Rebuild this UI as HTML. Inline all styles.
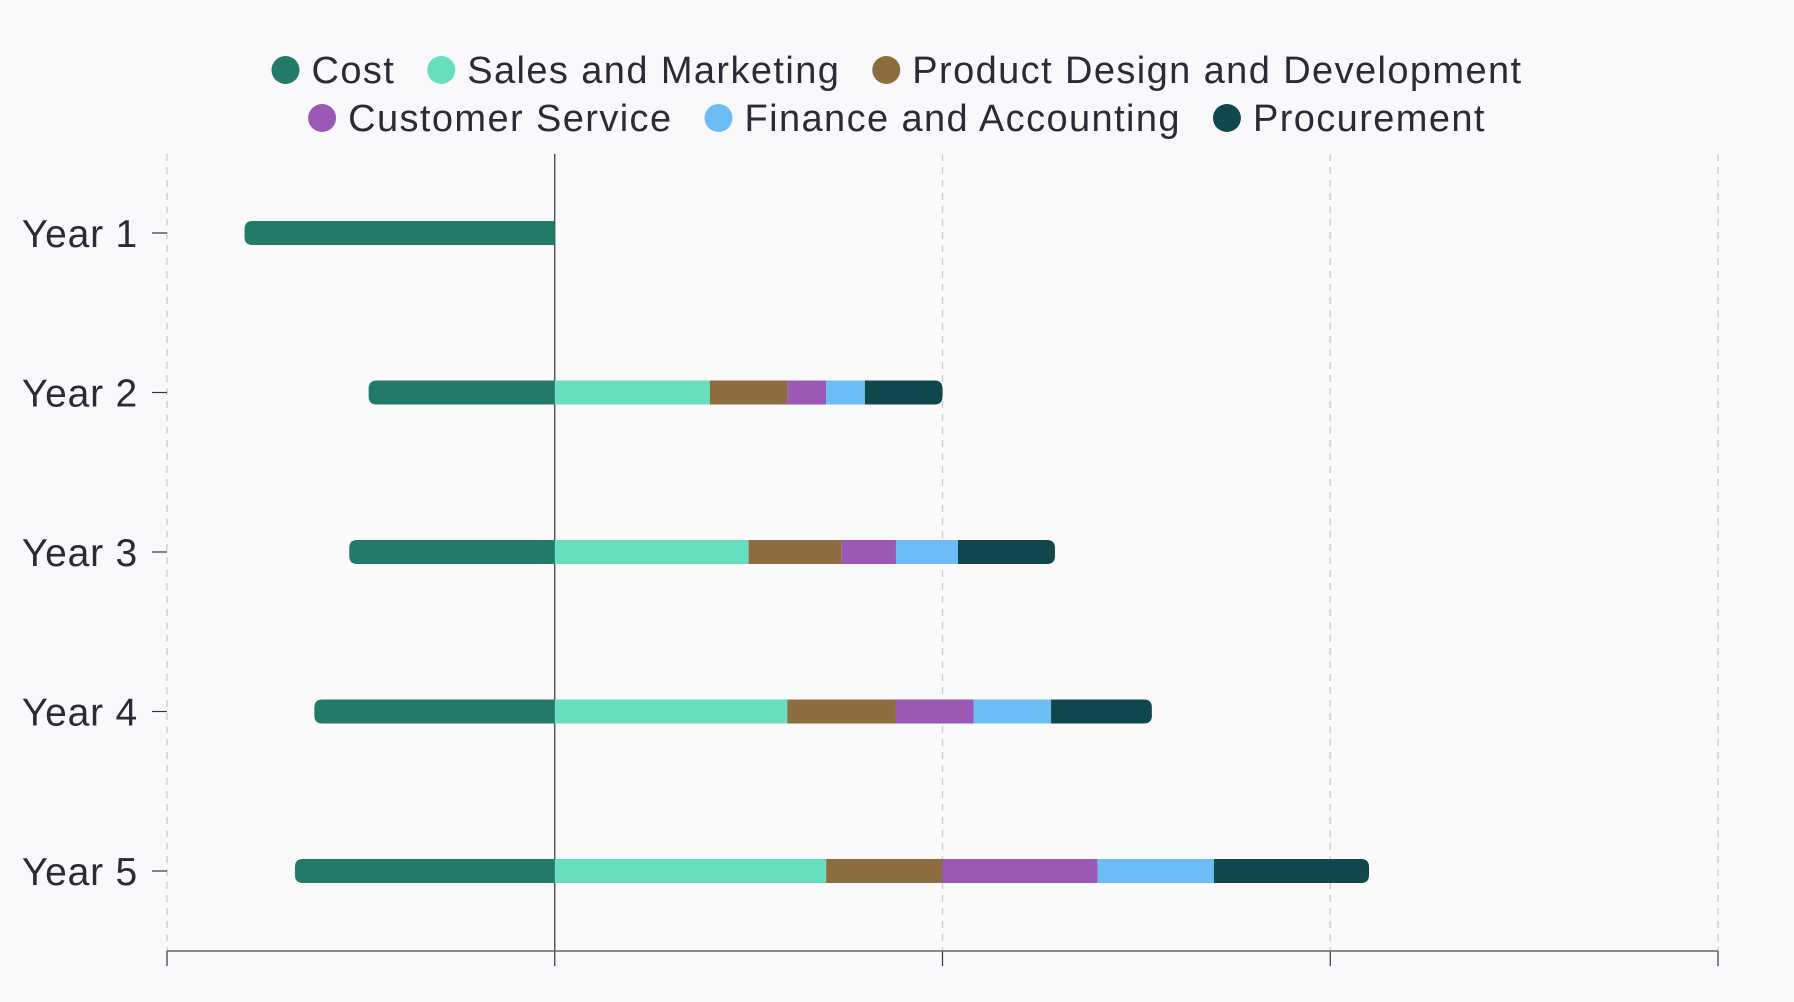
<!DOCTYPE html>
<html><head><meta charset="utf-8"><style>
html,body{margin:0;padding:0;background:#f9f9fb;}
svg{display:block;font-family:"Liberation Sans",sans-serif;}
</style></head><body>
<svg id="chart" width="1794" height="1002" viewBox="0 0 1794 1002" xmlns="http://www.w3.org/2000/svg">
<rect x="0" y="0" width="1794" height="1002" fill="#f9f9fb"/>
<rect x="167" y="154" width="1551" height="797" fill="#fafafa"/>
<g id="grid"></g>
<g id="bars"></g>
<g id="axes"></g>
<g id="legend"></g>
</svg>
<script>
const categories = ["Year 1","Year 2","Year 3","Year 4","Year 5"];
const seriesNames = ["Cost","Sales and Marketing","Product Design and Development","Customer Service","Finance and Accounting","Procurement"];
const seriesColors = ["#217a6a","#65dfbd","#8d6d3f","#9b59b6","#6cbdf5","#10474d"];
const cost = [-80,-48,-53,-62,-67];
const sales = [0,40,50,60,70];
const product = [0,20,24,28,30];
const customer = [0,10,14,20,40];
const finance = [0,10,16,20,30];
const procurement = [0,20,25,26,40];
const xTicks = [-100,0,100,200,300];

const NS="http://www.w3.org/2000/svg";
const x0=167,x1=1718,vmin=-100,vmax=300;
function xs(v){return x0+(v-vmin)/(vmax-vmin)*(x1-x0);}
const yTop=154,yBot=951;
function yc(i){return 233+i*159.5;}
const bh=24,r=8;
function mk(tag,attrs,parent){const e=document.createElementNS(NS,tag);for(const k in attrs)e.setAttribute(k,attrs[k]);parent.appendChild(e);return e;}
const grid=document.getElementById('grid'),bars=document.getElementById('bars'),axes=document.getElementById('axes'),legend=document.getElementById('legend');

xTicks.forEach(t=>{
  const x=xs(t);
  let l;
  if(t===0){l=mk('line',{x1:x,x2:x,y1:yTop,y2:yBot,stroke:'#333340','stroke-width':1.2},grid);}
  else{l=mk('line',{x1:x,x2:x,y1:yTop,y2:yBot,stroke:'#cfcfcf','stroke-width':1.5,'stroke-dasharray':'7,6'},grid);}
  
  
  const tk=mk('line',{x1:x,x2:x,y1:yBot,y2:966,stroke:'#333340','stroke-width':1.2},axes);
  
  
});
const ax=mk('line',{x1:x0,x2:x1,y1:yBot,y2:yBot,stroke:'#666','stroke-width':1.5},axes);



function roundedPath(xa,xb,y,leftRound,rightRound){
  const t=y-bh/2,b=y+bh/2;
  let d='';
  if(leftRound) d+=`M${xa+r},${t}`; else d+=`M${xa},${t}`;
  if(rightRound) d+=`L${xb-r},${t}Q${xb},${t} ${xb},${t+r}L${xb},${b-r}Q${xb},${b} ${xb-r},${b}`;
  else d+=`L${xb},${t}L${xb},${b}`;
  if(leftRound) d+=`L${xa+r},${b}Q${xa},${b} ${xa},${b-r}L${xa},${t+r}Q${xa},${t} ${xa+r},${t}Z`;
  else d+=`L${xa},${b}Z`;
  return d;
}
const pos=[sales,product,customer,finance,procurement];
categories.forEach((c,i)=>{
  const y=yc(i);
  const cp=mk('path',{d:roundedPath(xs(cost[i]),xs(0),y,true,false),fill:seriesColors[0]},bars);
  
  
  let acc=0;
  const last=pos.reduce((m,arr,k)=>arr[i]>0?k:m,-1);
  pos.forEach((arr,k)=>{
    const v=arr[i]; if(v<=0) return;
    const p=mk('path',{d:roundedPath(xs(acc),xs(acc+v),y,false,k===last),fill:seriesColors[k+1]},bars);
    
    
    acc+=v;
  });
  const tk=mk('line',{x1:152,x2:167,y1:y,y2:y,stroke:'#333340','stroke-width':1.2},axes);
  
  
  const tx=mk('text',{x:138,y:y+14,'text-anchor':'end','font-size':39,'letter-spacing':0.8,fill:'#2b2b38'},axes);
  tx.textContent=c;
  
  
});

const rows=[[0,1,2],[3,4,5]];
const rowY=[70,118];
rows.forEach((row,ri)=>{
  const g=mk('g',{},legend);
  
  
  let cx=0;
  row.forEach(k=>{
    const it=mk('g',{},g);
    
    
    mk('circle',{cx:cx+14,cy:0,r:14,fill:seriesColors[k]},it);
    const t=mk('text',{x:cx+40,y:13,'font-size':38,'letter-spacing':1.4,fill:'#2b2b38'},it);
    t.textContent=seriesNames[k];
    const w=t.getComputedTextLength();
    cx+=40+w+32;
  });
  const total=cx-32;
  g.setAttribute('transform',`translate(${(1794-total)/2},${rowY[ri]})`);
});
</script>
</body></html>
